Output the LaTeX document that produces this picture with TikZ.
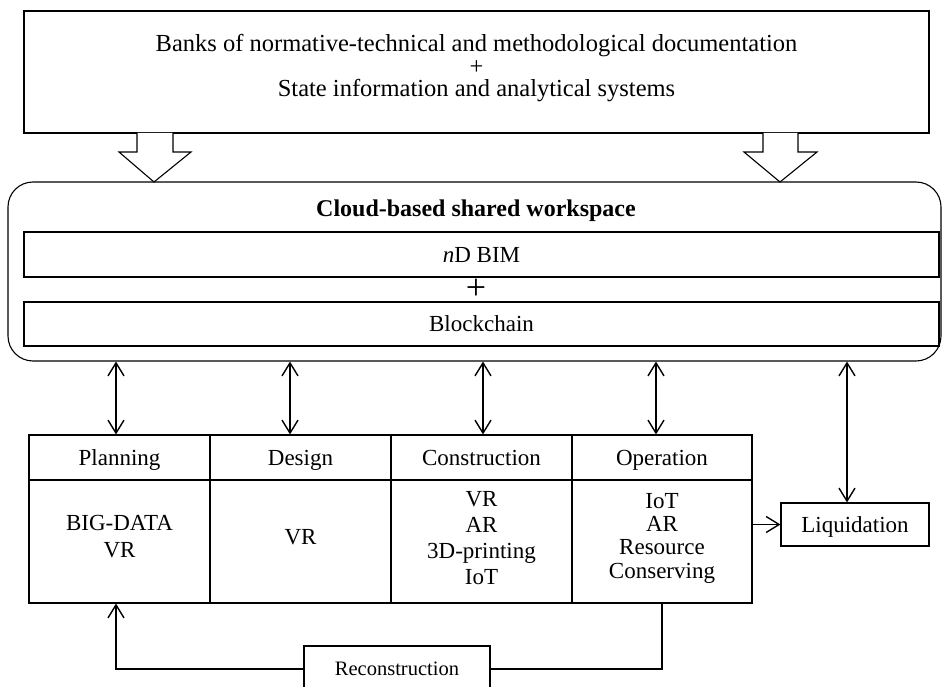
\documentclass[tikz,border=0pt]{standalone}
\usepackage{fontspec}
\setmainfont{Liberation Serif}
\usetikzlibrary{arrows.meta,calc}
\begin{document}
\begin{tikzpicture}[x=1pt,y=-1pt,
  box/.style={draw, line width=1.1pt, inner sep=0pt, align=center, font=\fontsize{23}{23}\selectfont},
  head/.style={box, text height=20pt, text depth=4.8pt},
  txt/.style={inner sep=0pt, align=center, font=\fontsize{23}{23}\selectfont},
  toptxt/.style={inner sep=0pt, font=\fontsize{24.5}{24.5}\selectfont},
  biarrow/.style={line width=1.4pt, {Straight Barb[length=13pt,width=16pt]}-{Straight Barb[length=13pt,width=16pt]}},
  onearrow/.style={line width=1.4pt, -{Straight Barb[length=13pt,width=16pt]}},
  hollow/.style={draw, line width=1.1pt, fill=white, line join=miter}]
\useasboundingbox (0,0) rectangle (943,687);
\clip (0,0) rectangle (943,687);

% top box
\node[box, minimum width=905pt, minimum height=122pt] (docs) at (476.5,72) {};
\node[toptxt, anchor=base] (docs1) at (476.5,52) {Banks of normative-technical and methodological documentation};
\node[toptxt] (docs2) at (476.5,67.5) {+};
\node[toptxt, anchor=base] (docs3) at (476.5,97) {State information and analytical systems};

% hollow arrows
\draw[hollow] (137,133) -- (137,152) -- (119,152) -- (154,182) -- (191,152) -- (173,152) -- (173,133);
\draw[hollow] (763,133) -- (763,152) -- (744,152) -- (780,182) -- (817,152) -- (798,152) -- (798,133);

% workspace
\node[draw, line width=1.1pt, rounded corners=25pt, minimum width=933pt, minimum height=179pt, inner sep=0pt] (ws) at (474.5,271.5) {};
\node[txt, font=\bfseries\fontsize{24}{24}\selectfont] (wstitle) at (476,211) {Cloud-based shared workspace};
\node[head, minimum width=915pt, minimum height=45pt] (bim) at (481.5,254.5) {\textit{n}D BIM};
\node[txt, font=\fontsize{36}{36}\selectfont] (plus) at (476,289) {+};
\node[head, minimum width=915pt, minimum height=44pt] (chain) at (481.5,324) {Blockchain};

% table headers
\node[head, minimum width=181pt, minimum height=45pt] (planh) at (119.5,457.5) {Planning};
\node[head, minimum width=181pt, minimum height=45pt] (desh) at (300.5,457.5) {Design};
\node[head, minimum width=181pt, minimum height=45pt] (consh) at (481.5,457.5) {Construction};
\node[head, minimum width=180pt, minimum height=45pt] (oph) at (662,457.5) {Operation};
% table bodies
\node[box, minimum width=181pt, minimum height=123pt] (planb) at (119.5,541.5) {};
\node[box, minimum width=181pt, minimum height=123pt] (desb) at (300.5,541.5) {};
\node[box, minimum width=181pt, minimum height=123pt] (consb) at (481.5,541.5) {};
\node[box, minimum width=180pt, minimum height=123pt] (opb) at (662,541.5) {};
\node[txt, font=\fontsize{23}{27}\selectfont] (plant) at (119.5,537) {BIG-DATA\\VR};
\node[txt] (dest) at (300.5,537) {VR};
\node[txt, font=\fontsize{23}{26}\selectfont] (const) at (481.5,538) {VR\\AR\\3D-printing\\IoT};
\node[txt, font=\fontsize{23}{23.3}\selectfont] (opt) at (662,538) {IoT\\AR\\Resource\\Conserving};

\node[head, minimum width=148pt, minimum height=43pt] (liq) at (855,524.5) {Liquidation};
\node[box, minimum width=186pt, minimum height=46pt, font=\fontsize{20.5}{22}\selectfont] (rec) at (397,669) {Reconstruction};

% arrow positions
\coordinate (c1) at (116,0);
\coordinate (c2) at (290,0);
\coordinate (c3) at (483,0);
\coordinate (c4) at (656,0);
\coordinate (c5) at (847,0);

\draw[biarrow] (ws.south -| c1) -- (planh.north -| c1);
\draw[biarrow] (ws.south -| c2) -- (desh.north -| c2);
\draw[biarrow] (ws.south -| c3) -- (consh.north -| c3);
\draw[biarrow] (ws.south -| c4) -- (oph.north -| c4);
\draw[biarrow] (ws.south -| c5) -- (liq.north -| c5);

\draw[onearrow] (opb.east |- liq.west) -- (liq.west);
\draw[onearrow] (rec.west) -| (c1 |- planb.south);
\draw[line width=1.4pt] (rec.east) -| (opb.south);
\end{tikzpicture}
\end{document}
